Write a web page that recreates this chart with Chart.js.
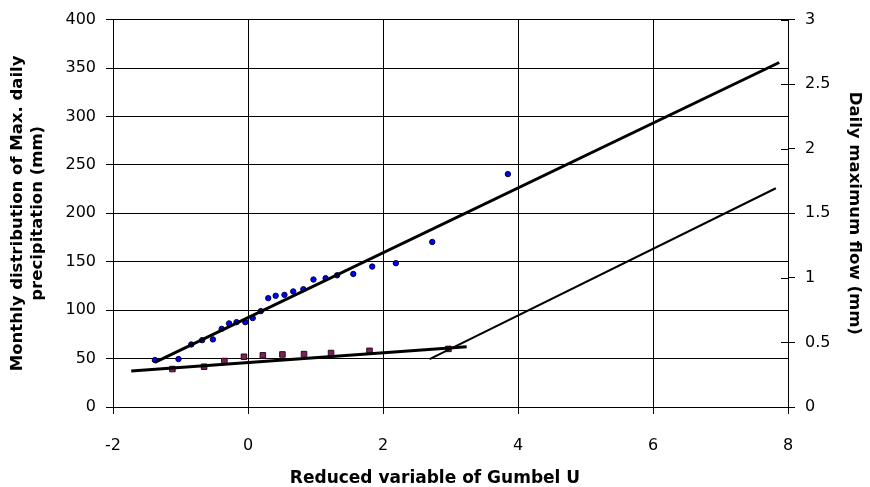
<!DOCTYPE html>
<html>
<head>
<meta charset="utf-8">
<script src="https://cdn.jsdelivr.net/npm/chart.js@4/dist/chart.umd.min.js"></script>
<style>
  html, body { margin: 0; padding: 0; background: #fff; }
  canvas { display: block; }
</style>
</head>
<body>
<canvas id="c" width="870" height="487"></canvas>
<script>
// Reduced variable of Gumbel U for monthly max daily precipitation (left axis, mm)
const uPrecip = [-1.38, -1.03, -0.84, -0.68, -0.52, -0.39, -0.28, -0.17, -0.04, 0.07, 0.19, 0.30,
                 0.41, 0.54, 0.67, 0.82, 0.97, 1.15, 1.32, 1.56, 1.84, 2.19, 2.73, 3.85];
const precip  = [48.5, 49.5, 64.6, 69.0, 69.8, 80.7, 86.3, 87.6, 87.6, 91.8, 99.0, 112.4,
                 114.8, 115.8, 119.3, 121.6, 131.6, 133.0, 136.0, 137.4, 145.0, 148.5, 170.4, 240.5];

// Daily maximum flow (right axis, mm)
const uFlow = [-1.12, -0.65, -0.35, -0.06, 0.22, 0.51, 0.83, 1.23, 1.80, 2.97];
const flow  = [0.294, 0.312, 0.356, 0.389, 0.400, 0.407, 0.410, 0.418, 0.435, 0.450];

// Fitted lines
const fitPrecipU = [-1.38, 7.87];
const fitPrecipV = [46.0, 355.7];
const fitFlowU   = [-1.73, 3.24];
const fitFlowV   = [0.278, 0.466];
const fitFlow2U  = [2.69, 7.82];
const fitFlow2V  = [0.371, 1.694];

// Axes
const xRange  = [-2, 8, 2];
const yRange  = [0, 400, 50];
const y1Range = [0, 3, 0.5];

const xTitle  = 'Reduced variable of Gumbel U';
const yTitle  = ['Monthly distribution of Max. daily', 'precipitation (mm)'];
const y1Title = 'Daily maximum flow (mm)';

const pts = (xs, ys) => xs.map((x, i) => ({ x: x, y: ys[i] }));
const plain = v => String(Math.round(v * 1000) / 1000);

const innerTicks = {
  id: 'innerTicks',
  afterDraw(chart) {
    const s = chart.scales.y1;
    const ctx = chart.ctx;
    const r = chart.chartArea.right;
    ctx.save();
    ctx.strokeStyle = '#000';
    ctx.lineWidth = 1;
    s.ticks.forEach(t => {
      const y = Math.round(s.getPixelForValue(t.value)) + 0.5;
      ctx.beginPath();
      ctx.moveTo(r - 7, y);
      ctx.lineTo(r, y);
      ctx.stroke();
    });
    ctx.restore();
  }
};

const tickFont = { family: 'DejaVu Sans', size: 16 };
const titleFontR = { family: 'DejaVu Sans', size: 16.5, weight: 'bold', lineHeight: 1.25 };

new Chart(document.getElementById('c'), {
  type: 'scatter',
  data: {
    datasets: [
      { data: pts(fitPrecipU, fitPrecipV), yAxisID: 'y', showLine: true, borderColor: '#000',
        borderWidth: 3, pointRadius: 0, fill: false },
      { data: pts(fitFlowU, fitFlowV), yAxisID: 'y1', showLine: true, borderColor: '#000',
        borderWidth: 3, pointRadius: 0, fill: false },
      { data: pts(fitFlow2U, fitFlow2V), yAxisID: 'y1', showLine: true, borderColor: '#000',
        borderWidth: 2, pointRadius: 0, fill: false },
      { data: pts(uPrecip, precip), yAxisID: 'y', pointStyle: 'circle', pointRadius: 2.7,
        backgroundColor: '#0000FF', borderColor: '#000033', borderWidth: 1 },
      { data: pts(uFlow, flow), yAxisID: 'y1', pointStyle: 'rect', pointRadius: 3.9,
        backgroundColor: '#7B2358', borderColor: '#2a0a1e', borderWidth: 1 }
    ]
  },
  options: {
    responsive: false,
    animation: false,
    layout: { padding: { top: 19, left: 0, right: 0, bottom: 0 } },
    plugins: {
      legend: { display: false },
      tooltip: { enabled: false },
      title: {
        display: true, position: 'bottom', text: xTitle, color: '#000',
        font: { family: 'DejaVu Sans', size: 17, weight: 'bold', lineHeight: 1.0 },
        padding: { top: 0, bottom: 0 }
      }
    },
    scales: {
      x: {
        type: 'linear', min: xRange[0], max: xRange[1],
        ticks: { stepSize: xRange[2], color: '#000', font: tickFont, padding: 22, maxRotation: 0, callback: plain },
        grid: { color: '#000', lineWidth: 1, tickLength: 7, tickColor: '#000' },
        border: { color: '#000', width: 1 },
        afterFit(s) { s.height = 63; }
      },
      y: {
        type: 'linear', position: 'left', min: yRange[0], max: yRange[1],
        ticks: { stepSize: yRange[2], color: '#000', font: tickFont, padding: 10, callback: plain },
        grid: { color: '#000', lineWidth: 1, tickLength: 7, tickColor: '#000' },
        border: { color: '#000', width: 1 },
        title: { display: true, text: yTitle, color: '#000', font: titleFontR, padding: { top: 7, bottom: 0 } },
        afterFit(s) { s.width = 113; }
      },
      y1: {
        type: 'linear', position: 'right', min: y1Range[0], max: y1Range[1],
        ticks: { stepSize: y1Range[2], color: '#000', font: tickFont, padding: 10, callback: plain },
        grid: { drawOnChartArea: false, tickLength: 7, tickColor: '#000', color: '#000' },
        border: { color: '#000', width: 1 },
        title: { display: true, text: y1Title, color: '#000', font: titleFontR, padding: { top: 5, bottom: 0 } },
        afterFit(s) { s.width = 82; }
      }
    }
  },
  plugins: [innerTicks]
});
</script>
</body>
</html>
